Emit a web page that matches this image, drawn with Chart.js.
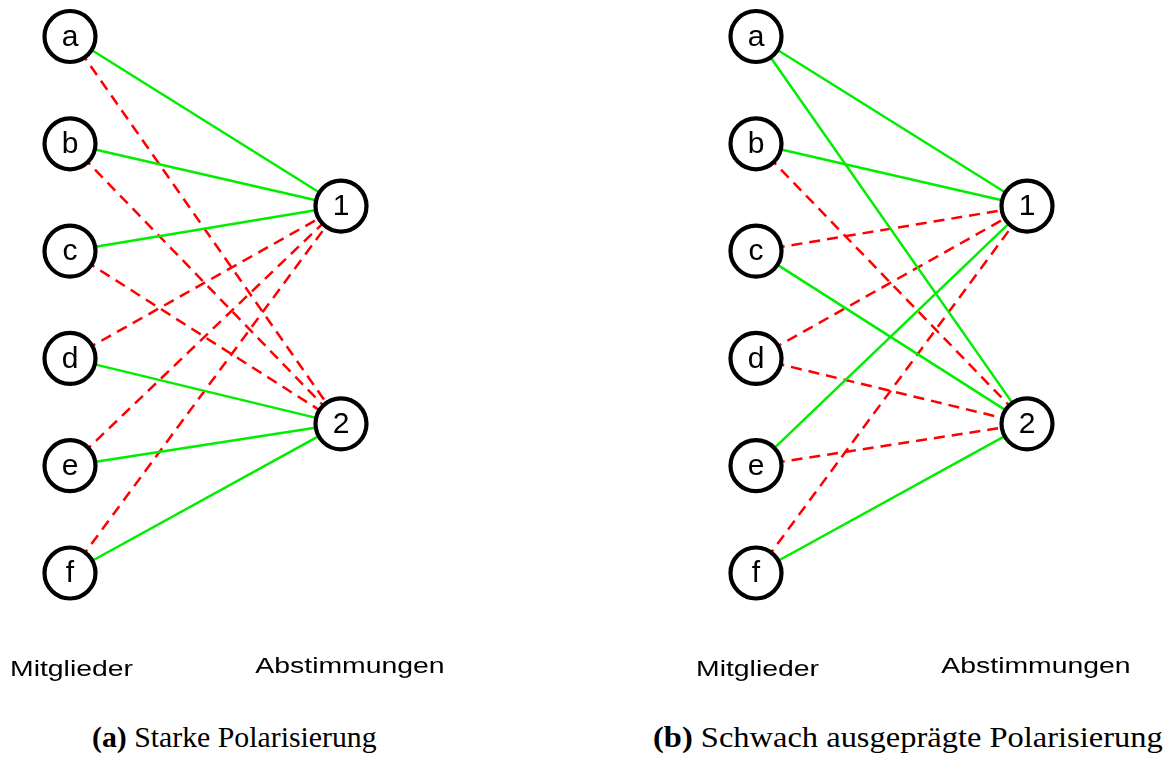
<!DOCTYPE html>
<html>
<head>
<meta charset="utf-8">
<script src="https://cdn.jsdelivr.net/npm/chart.js@4.4.1/dist/chart.umd.min.js"></script>
<style>
  body { margin: 0; background: #fff; }
  #wrap { position: relative; width: 1172px; height: 758px; overflow: hidden; }
  .panel { position: absolute; top: 0; }
  .caption { position: absolute; top: 720px; font-family: "Liberation Serif", serif; font-size: 30px; color: #000; white-space: nowrap; transform-origin: 0 50%; }
  .caption b { font-weight: bold; }
</style>
</head>
<body>
<div id="wrap">
  <div class="panel" style="left:0px"><canvas id="graphA" width="586" height="700"></canvas></div>
  <div class="panel" style="left:686px"><canvas id="graphB" width="486" height="700"></canvas></div>
  <div class="caption" id="capA" style="left:92px"><b>(a)</b> Starke Polarisierung</div>
  <div class="caption" id="capB" style="left:653px"><b>(b)</b> Schwach ausgeprägte Polarisierung</div>
</div>
<script>
// nodes of the bipartite graphs
var members = ['a', 'b', 'c', 'd', 'e', 'f'];
var votes = ['1', '2'];
var memberLabel = 'Mitglieder';
var voteLabel = 'Abstimmungen';

// edge signs per member: [vote 1, vote 2], 1 = agree (green), -1 = disagree (red dashed)
var edgesStrong = [
  [1, -1],
  [1, -1],
  [1, -1],
  [-1, 1],
  [-1, 1],
  [-1, 1]
];
var edgesWeak = [
  [1, 1],
  [1, -1],
  [-1, 1],
  [-1, -1],
  [1, -1],
  [-1, 1]
];

// layout: where the vote nodes sit relative to member rows
var voteRows = [1.58, 3.61];

var GREEN = '#00ee00';
var RED = '#ff0000';

var labelPlugin = {
  id: 'nodeLabels',
  afterDatasetsDraw: function (chart) {
    var ctx = chart.ctx;
    var xs = chart.scales.x, ys = chart.scales.y;
    ctx.save();
    ctx.fillStyle = '#000';
    ctx.textAlign = 'center';
    ctx.textBaseline = 'middle';
    ctx.font = '30px "Liberation Sans", Arial, sans-serif';
    members.forEach(function (m, i) {
      ctx.fillText(m, xs.getPixelForValue(0), ys.getPixelForValue(i) + 1);
    });
    votes.forEach(function (v, j) {
      ctx.fillText(v, xs.getPixelForValue(1), ys.getPixelForValue(voteRows[j]) + 1);
    });
    // column titles, drawn a bit wide like the original
    ctx.font = '22px "Liberation Sans", Arial, sans-serif';
    var bottom = ys.getPixelForValue(members.length - 1);
    [[memberLabel, xs.getPixelForValue(0) + 1.5, bottom + 97],
     [voteLabel, xs.getPixelForValue(1) + 9, bottom + 94]].forEach(function (t) {
      ctx.save();
      ctx.translate(t[1], t[2]);
      ctx.scale(1.29, 1);
      ctx.fillText(t[0], 0, 0);
      ctx.restore();
    });
    ctx.restore();
  }
};

function makeGraph(id, edges) {
  var datasets = [];

  // nodes on top
  var nodes = members.map(function (m, i) { return { x: 0, y: i }; })
    .concat(votes.map(function (v, j) { return { x: 1, y: voteRows[j] }; }));
  datasets.push({
    data: nodes,
    order: 0,
    showLine: false,
    pointRadius: 25.5,
    pointBorderWidth: 4.2,
    pointBackgroundColor: '#fff',
    pointBorderColor: '#000'
  });

  edges.forEach(function (row, i) {
    row.forEach(function (sign, j) {
      datasets.push({
        data: [{ x: 0, y: i }, { x: 1, y: voteRows[j] }],
        order: sign > 0 ? 1 : 2,
        showLine: true,
        pointRadius: 0,
        borderWidth: 2.5,
        borderColor: sign > 0 ? GREEN : RED,
        borderDash: sign > 0 ? [] : [11, 7]
      });
    });
  });

  var w = document.getElementById(id).width;
  var unitX = 271, unitY = 107.3;
  return new Chart(id, {
    type: 'scatter',
    data: { datasets: datasets },
    plugins: [labelPlugin],
    options: {
      responsive: false,
      animation: false,
      events: [],
      layout: { padding: 0, autoPadding: false },
      plugins: { legend: { display: false }, tooltip: { enabled: false } },
      scales: {
        x: { type: 'linear', display: false, min: -70 / unitX, max: (w - 70) / unitX },
        y: { type: 'linear', display: false, reverse: true, min: -36.5 / unitY, max: (700 - 36.5) / unitY }
      }
    }
  });
}

makeGraph('graphA', edgesStrong);
makeGraph('graphB', edgesWeak);

// stretch captions to the width they have in the original figure
[['capA', 285], ['capB', 510]].forEach(function (c) {
  var el = document.getElementById(c[0]);
  el.style.transform = 'scaleX(' + (c[1] / el.offsetWidth) + ')';
});
</script>
</body>
</html>
